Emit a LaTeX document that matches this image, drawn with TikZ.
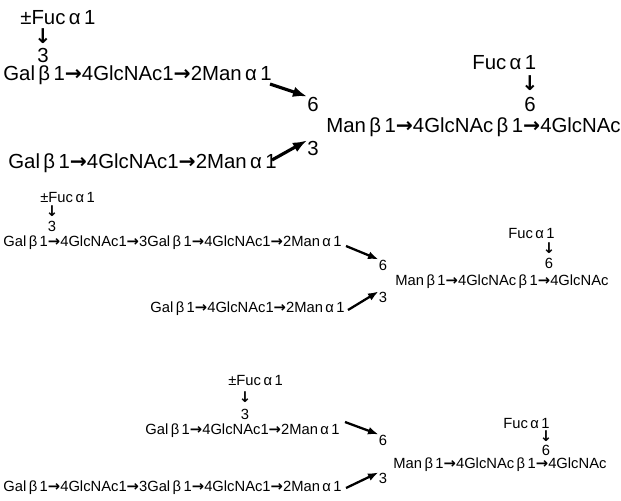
\documentclass[tikz,border=0pt]{standalone}
\usepackage{fontspec}
\setmainfont{Liberation Sans}
\newfontfamily\arfont{DejaVu Sans}
\newcommand\lk{{\arfont\bfseries →}}
\newcommand\dn{{\arfont\bfseries ↓}}
\usetikzlibrary{arrows.meta}
\tikzset{
  big/.style={inner sep=0pt, anchor=west, font=\fontsize{11.6}{13}\selectfont},
  small/.style={inner sep=0pt, anchor=west, font=\fontsize{8.4}{10}\selectfont},
  link/.style={-{Latex[length=8pt,width=6pt]}, line width=1.8pt},
  slink/.style={-{Latex[length=6pt,width=4.5pt]}, line width=1.3pt}
}
\begin{document}
\begin{tikzpicture}[x=0.02cm, y=-0.02cm]
  \useasboundingbox (0,0) rectangle (621,500);
  % first structure
  \node[big] (fucA) at (20,18) {±Fuc\,α\,1};
  \node[big, anchor=center] (dnA) at (43,36) {\dn};
  \node[big, anchor=center] (thrA) at (43,55) {3};
  \node[big] (armA) at (3,75) {Gal\,β\,1\lk4GlcNAc1\lk2Man\,α\,1};
  \node[big] (armB) at (8,163) {Gal\,β\,1\lk4GlcNAc1\lk2Man\,α\,1};
  \node[big, anchor=center] (sixA) at (313,104) {6};
  \node[big, anchor=center] (thrB) at (313,148) {3};
  \node[big] (coreA) at (326,127) {Man\,β\,1\lk4GlcNAc\,β\,1\lk4GlcNAc};
  \node[big] (fucB) at (472,63) {Fuc\,α\,1};
  \node[big, anchor=center] (dnB) at (530,83) {\dn};
  \node[big, anchor=center] (sixB) at (530,104) {6};
  \draw[link] (270,84) -- (sixA.north west);
  \draw[link] (272,160) -- (thrB.north west);
  % second structure
  \node[small] (fucC) at (40,197) {±Fuc\,α\,1};
  \node[small, anchor=center] (dnC) at (52,211) {\dn};
  \node[small, anchor=center] (thrC) at (52,226) {3};
  \node[small] (armC) at (3,243) {Gal\,β\,1\lk4GlcNAc1\lk3Gal\,β\,1\lk4GlcNAc1\lk2Man\,α\,1};
  \node[small] (armD) at (150,309) {Gal\,β\,1\lk4GlcNAc1\lk2Man\,α\,1};
  \node[small, anchor=center] (sixC) at (383,265) {6};
  \node[small, anchor=center] (thrD) at (383,297) {3};
  \node[small] (coreB) at (395,282) {Man\,β\,1\lk4GlcNAc\,β\,1\lk4GlcNAc};
  \node[small] (fucD) at (508,233) {Fuc\,α\,1};
  \node[small, anchor=center] (dnD) at (549,248) {\dn};
  \node[small, anchor=center] (sixD) at (549,263) {6};
  \draw[slink] (346,246) -- (sixC.north west);
  \draw[slink] (348,310) -- (thrD.north west);
  % third structure
  \node[small] (fucE) at (228,380) {±Fuc\,α\,1};
  \node[small, anchor=center] (dnE) at (245,397) {\dn};
  \node[small, anchor=center] (thrE) at (245,414) {3};
  \node[small] (armE) at (145,431) {Gal\,β\,1\lk4GlcNAc1\lk2Man\,α\,1};
  \node[small] (armF) at (3,488) {Gal\,β\,1\lk4GlcNAc1\lk3Gal\,β\,1\lk4GlcNAc1\lk2Man\,α\,1};
  \node[small, anchor=center] (sixE) at (383,440) {6};
  \node[small, anchor=center] (thrF) at (383,478) {3};
  \node[small] (coreC) at (393,465) {Man\,β\,1\lk4GlcNAc\,β\,1\lk4GlcNAc};
  \node[small] (fucF) at (503,423) {Fuc\,α\,1};
  \node[small, anchor=center] (dnF) at (546,436) {\dn};
  \node[small, anchor=center] (sixF) at (546,450) {6};
  \draw[slink] (345,422) -- (sixE.north west);
  \draw[slink] (346,488) -- (thrF.north west);
\end{tikzpicture}
\end{document}
